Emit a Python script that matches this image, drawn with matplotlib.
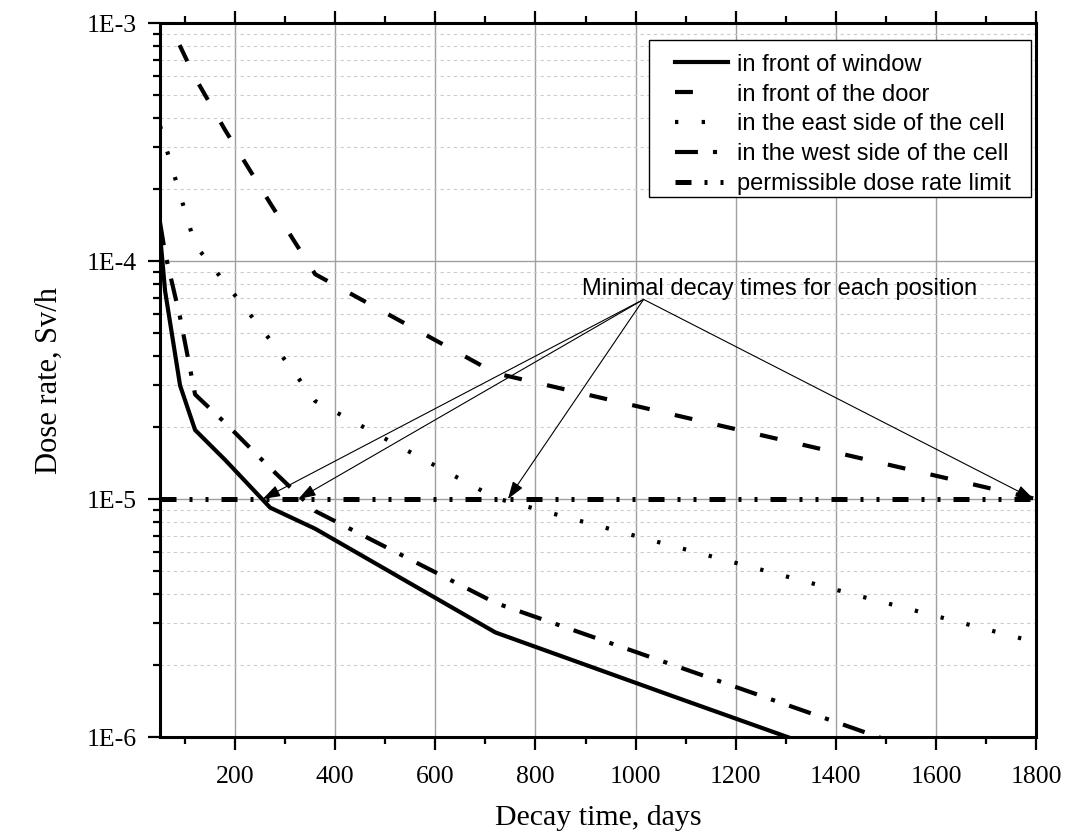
import numpy as np
import matplotlib
matplotlib.use('Agg')
import matplotlib.pyplot as plt
from matplotlib.patches import Rectangle
from matplotlib.ticker import FixedLocator, FixedFormatter, LogLocator, NullFormatter

# decay time, days
days = [50, 60, 90, 120, 180, 270, 360, 720, 1080, 1440, 1800]

# dose rate, Sv/h
window = [1.29e-4, 7.5e-5, 3.0e-5, 1.95e-5, 1.46e-5, 9.2e-6, 7.5e-6, 2.75e-6, 1.47e-6, 7.9e-7, 4.2e-7]
door = [1.18e-3, 1.06e-3, 8.0e-4, 5.9e-4, 3.55e-4, 1.75e-4, 8.8e-5, 3.38e-5, 2.25e-5, 1.5e-5, 1.0e-5]
east = [3.7e-4, 3.1e-4, 1.9e-4, 1.17e-4, 8.1e-5, 4.66e-5, 2.58e-5, 1.01e-5, 6.3e-6, 3.95e-6, 2.5e-6]
west = [1.45e-4, 1.08e-4, 5.8e-5, 2.75e-5, 2.09e-5, 1.35e-5, 8.9e-6, 3.66e-6, 1.99e-6, 1.08e-6, 5.8e-7]
limit = 1e-5

labels = ['in front of window', 'in front of the door', 'in the east side of the cell',
          'in the west side of the cell', 'permissible dose rate limit']

# where each curve meets the limit (arrow tips)
min_decay = [255, 326, 745, 1795]
note_text = 'Minimal decay times for each position'

serif = 'Liberation Serif'
sans = 'Liberation Sans'

fig = plt.figure(figsize=(10.67, 8.38), dpi=100)
ax = fig.add_axes([0.150, 0.1205, 0.821, 0.852])

lw = 3
ax.plot(days, window, color='black', lw=lw, solid_joinstyle='miter', label=labels[0], zorder=5)
ax.plot(days, door, color='black', lw=lw, dashes=(4.3, 6.2), dash_capstyle='butt', label=labels[1], zorder=5)
ax.plot(days, east, color='black', lw=lw, dashes=(0.8, 5.6), dash_capstyle='butt', label=labels[2], zorder=5)
ax.plot(days, west, color='black', lw=lw, dashes=(5.5, 3.6, 1.0, 3.6), dash_capstyle='butt', label=labels[3], zorder=5)
ax.plot([days[0], days[-1]], [limit, limit], color='black', lw=3.6,
        dashes=(3.2, 2.6, 0.6, 2.6, 0.6, 2.6), dash_capstyle='butt', label=labels[4], zorder=6)

ax.set_yscale('log')
ax.set_xlim(50, 1800)
ax.set_ylim(1e-6, 1e-3)

# ticks
ax.xaxis.set_major_locator(FixedLocator(np.arange(200, 1801, 200)))
ax.xaxis.set_minor_locator(FixedLocator(np.arange(100, 1801, 200)))
yt = [1e-6, 1e-5, 1e-4, 1e-3]
ax.yaxis.set_major_locator(FixedLocator(yt))
ax.yaxis.set_major_formatter(FixedFormatter(['1E-6', '1E-5', '1E-4', '1E-3']))
ax.yaxis.set_minor_locator(LogLocator(base=10, subs=np.arange(2, 10)))
ax.yaxis.set_minor_formatter(NullFormatter())

ax.tick_params(which='both', direction='out', top=True, right=False, width=1.6, labelsize=18.5)
ax.tick_params(which='major', length=9)
ax.tick_params(which='minor', length=5)
ax.tick_params(axis='x', which='major', pad=12)
ax.tick_params(axis='y', which='major', pad=8)
for lab in ax.get_xticklabels() + ax.get_yticklabels():
    lab.set_fontfamily(serif)

for sp in ax.spines.values():
    sp.set_linewidth(2.2)

# grid
ax.grid(True, which='major', axis='x', color='#a0a0a0', lw=1.0)
ax.grid(True, which='major', axis='y', color='#a0a0a0', lw=1.0)
ax.grid(True, which='minor', axis='y', color='#cccccc', lw=0.8, linestyle=(0, (3, 3)))
ax.set_axisbelow(True)

ax.set_xlabel('Decay time, days', fontfamily=serif, fontsize=21.5, labelpad=12)
ax.set_ylabel('Dose rate, Sv/h', fontfamily=serif, fontsize=22, labelpad=16)

# annotation
origin = (1016, 6.9e-5)
for d in min_decay:
    ax.annotate('', xy=(d, limit), xytext=origin,
                arrowprops=dict(arrowstyle='-|>,head_length=0.6,head_width=0.2',
                                color='black', lw=0.8, mutation_scale=18,
                                shrinkA=0, shrinkB=0), zorder=7)
ax.text(1288, 7.6e-5, note_text, ha='center', va='center', fontfamily=sans, fontsize=17, zorder=7)

# legend: own frame, entries placed inside it
box = Rectangle((0.558, 0.756), 0.436, 0.220, transform=ax.transAxes, facecolor='white',
                edgecolor='black', lw=1.0, zorder=8)
ax.add_patch(box)
leg = ax.legend(loc='upper left', bbox_to_anchor=(0.588, 0.957), prop={'family': sans, 'size': 17},
                frameon=False, handlelength=2.25, handletextpad=0.35, labelspacing=0.33,
                borderpad=0, borderaxespad=0)
leg.set_zorder(9)
leg.get_lines()[1].set_dashes((4.3, 9))

fig.savefig('out.png', dpi=100)
